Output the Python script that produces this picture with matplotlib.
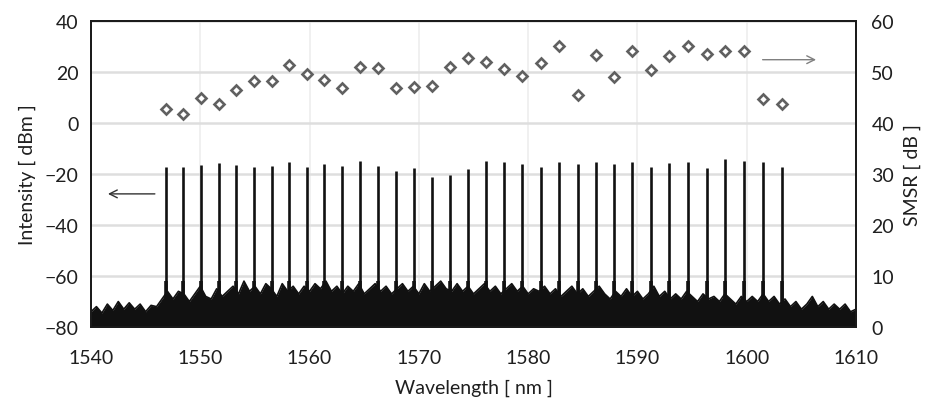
import matplotlib
matplotlib.use("Agg")
import matplotlib.pyplot as plt
import numpy as np

plt.rcParams['font.family'] = ['Lato', 'DejaVu Sans']

# ---- data ----
peak_wl = [1546.85, 1548.45, 1550.05, 1551.7, 1553.25, 1554.9, 1556.55, 1558.15,
           1559.75, 1561.35, 1563.0, 1564.65, 1566.25, 1567.9, 1569.55, 1571.2,
           1572.85, 1574.5, 1576.15, 1577.8, 1579.45, 1581.15, 1582.85, 1584.55,
           1586.2, 1587.85, 1589.5, 1591.25, 1592.9, 1594.6, 1596.35, 1598.05,
           1599.75, 1601.45, 1603.2]
peak_dbm = [-17.4, -17.4, -16.5, -15.8, -16.4, -17.4, -16.7, -15.4, -17.1, -16.1,
            -16.7, -15.0, -16.7, -18.9, -17.8, -21.1, -20.3, -18.0, -15.0, -15.2,
            -16.1, -17.4, -15.2, -16.1, -15.4, -16.1, -15.4, -17.4, -15.7, -15.4,
            -17.8, -14.1, -14.8, -15.4, -17.4]
smsr_db = [42.7, 41.8, 44.9, 43.7, 46.5, 48.3, 48.3, 51.4, 49.5, 48.5, 46.8, 50.9,
           50.8, 46.8, 47.1, 47.3, 50.9, 52.7, 51.9, 50.5, 49.3, 51.8, 55.0, 45.4,
           53.3, 49.1, 54.1, 50.4, 53.1, 55.0, 53.5, 54.2, 54.1, 44.7, 43.7]

floor_wl_start, floor_wl_step = 1540.0, 0.5
floor_dbm = [
    -74, -72, -74.5, -71, -73.5, -70, -73, -70.5, -73, -71, -74, -71.5, -72, -69,
    -66, -69, -66, -67, -70, -67, -64, -68, -69, -65, -68, -66, -64, -67, -62, -66,
    -64, -67, -63, -65, -68, -63, -66, -64, -67, -64, -66, -63, -65, -62, -66, -64,
    -67, -64, -66, -63, -67, -65, -63, -66, -64, -67, -65, -63, -66, -64, -67, -63,
    -66, -64, -62, -65, -66, -63, -66, -64, -67, -65, -63, -66, -64, -67, -65, -63,
    -66, -64, -67, -65, -66, -64, -67, -65, -68, -66, -64, -67, -65, -68, -66, -64,
    -67, -69, -66, -68, -65, -68, -66, -69, -67, -64, -68, -66, -69, -67, -69, -66,
    -68, -70, -67, -69, -68, -70, -67, -69, -71, -68, -70, -68, -70, -67, -70, -68,
    -71, -69, -72, -70, -73, -71, -68, -72, -70, -73, -71, -73, -71, -74, -73]
floor_wl = floor_wl_start + floor_wl_step * np.arange(len(floor_dbm))

xticks = [1540, 1550, 1560, 1570, 1580, 1590, 1600, 1610]
yticks_left = [-80, -60, -40, -20, 0, 20, 40]
yticks_right = [0, 10, 20, 30, 40, 50, 60]

# ---- figure ----
fig = plt.figure(figsize=(9.33, 4.06), dpi=100)
ax = fig.add_axes([0.0975, 0.192, 0.82, 0.754])
ax2 = ax.twinx()

txt = '#1f1f1f'
ax.set_xlim(1540, 1610)
ax.set_ylim(-80, 40)
ax2.set_ylim(0, 60)
ax.set_xticks(xticks)
ax.set_yticks(yticks_left)
ax2.set_yticks(yticks_right)

ax.grid(True, axis='y', color='#dedede', lw=1.8, zorder=0)
ax.grid(True, axis='x', color='#eeeeee', lw=1.2, zorder=0)
ax.set_axisbelow(True)

# noise floor
ax.fill_between(floor_wl, -80, floor_dbm, color='#111111', lw=0, zorder=2)
ax.plot(floor_wl, floor_dbm, color='#111111', lw=1.2, zorder=2)
# laser lines
ax.vlines(peak_wl, -80, peak_dbm, color='#111111', lw=1.9, zorder=3)
ax.vlines(peak_wl, -80, -62, color='#111111', lw=2.6, zorder=3)

# SMSR diamonds
ax2.plot(peak_wl, smsr_db, ls='none', marker='D', ms=5.6, mfc='white',
         mec='#606060', mew=1.9, zorder=4)

# arrows
ax.annotate('', xy=(1541.3, -27.8), xytext=(1546.1, -27.8),
            arrowprops=dict(arrowstyle='->', color='#333333', lw=1.0,
                            mutation_scale=14))
ax2.annotate('', xy=(1606.6, 52.4), xytext=(1601.2, 52.4),
             arrowprops=dict(arrowstyle='->', color='#808080', lw=1.0,
                             mutation_scale=14))

for a in (ax, ax2):
    for s in a.spines.values():
        s.set_color('#1a1a1a')
        s.set_linewidth(1.3)
    a.tick_params(length=0, labelsize=14, colors=txt)
ax.tick_params(axis='x', pad=16)
ax.tick_params(axis='y', pad=9)
ax2.tick_params(axis='y', pad=11)

ax.set_xlabel('Wavelength [ nm ]', fontsize=14, color=txt, labelpad=9)
ax.set_ylabel('Intensity [ dBm ]', fontsize=14, color=txt, labelpad=6)
ax2.set_ylabel('SMSR [ dB ]', fontsize=14, color=txt, labelpad=7)

fig.savefig('out.png', dpi=100, facecolor='white')
